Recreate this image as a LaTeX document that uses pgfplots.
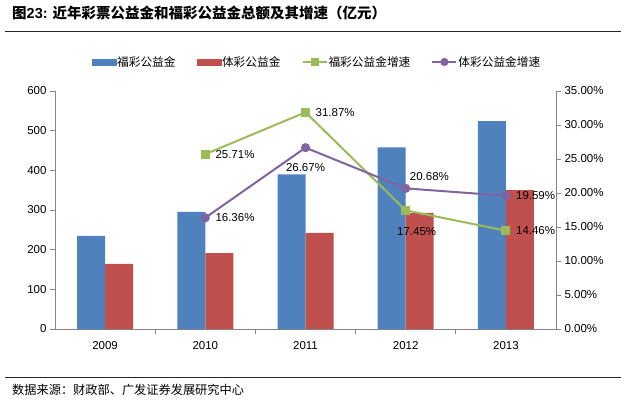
\documentclass[border=0pt]{standalone}
\usepackage{pgfplots}
\pgfplotsset{compat=1.18}
\usepackage{fontspec}
\setmainfont{Liberation Sans}
\newfontfamily\cjk{Noto Sans CJK SC}
\definecolor{cblue}{HTML}{4F81BD}
\definecolor{cred}{HTML}{C0504D}
\definecolor{cgreen}{HTML}{9BBB59}
\definecolor{cpurple}{HTML}{8064A2}
\definecolor{cax}{HTML}{868686}
\pgfplotstableread{
x fc tc
0 235.0 164.5
1 295.4 191.4
2 389.6 242.5
3 457.6 292.6
4 523.8 349.9
}\bars
\pgfplotstableread{
x fcg tcg
1 25.71 16.36
2 31.87 26.67
3 17.45 20.68
4 14.46 19.59
}\rates
\begin{document}
\begin{tikzpicture}[x=1pt,y=1pt]
\useasboundingbox (0,0) rectangle (626,405);
\fill[white] (0,0) rectangle (626,405);
\node[anchor=base west, inner sep=0] at (12,386) {\fontsize{14.5}{16}\selectfont{\cjk\bfseries 图}\textbf{23:}\hspace{5pt}{\cjk\bfseries 近年彩票公益金和福彩公益金总额及其增速（亿元）}};
\draw[line width=1pt, black!85] (5,373) -- (621,373);
\draw[line width=0.8pt, black!85] (5,28) -- (621,28);
\node[anchor=base west, inner sep=0] at (12,11) {\fontsize{12.2}{14}\selectfont\cjk 数据来源：财政部、广发证券发展研究中心};
\begin{axis}[
  at={(55pt,76pt)}, anchor=south west, scale only axis,
  width=501pt, height=238pt,
  xmin=-0.5, xmax=4.5, ymin=0, ymax=600,
  axis x line*=bottom, axis y line*=left,
  axis line style={cax, line width=0.8pt},
  xtick={0,1,2,3,4}, xticklabels={2009,2010,2011,2012,2013},
  minor xtick={0.5,1.5,2.5,3.5},
  major x tick style={draw=none},
  minor x tick style={draw=cax, line width=0.8pt},
  minor tick length=5pt,
  ytick={0,100,...,600},
  major y tick style={draw=cax, line width=0.8pt},
  major tick length=5pt, tick align=outside,
  tick label style={font=\fontsize{11.5}{13}\selectfont, black},
  /pgf/number format/assume math mode=true,
  xticklabel style={yshift=-4pt},
  ybar=0pt, bar width=28pt,
  enlargelimits=false,
]
\addplot[fill=cblue, draw=none] table[x=x,y=fc] {\bars};
\addplot[fill=cred, draw=none] table[x=x,y=tc] {\bars};
\end{axis}
\begin{axis}[
  at={(55pt,76pt)}, anchor=south west, scale only axis,
  width=501pt, height=238pt,
  xmin=-0.5, xmax=4.5, ymin=0, ymax=35,
  axis x line=none, axis y line*=right,
  axis line style={cax, line width=0.8pt},
  ytick={0,5,...,35},
  yticklabel={\pgfmathprintnumber[fixed,fixed zerofill,precision=2]{\tick}\%},
  major y tick style={draw=cax, line width=0.8pt},
  major tick length=5pt, tick align=outside,
  tick label style={font=\fontsize{11.5}{13}\selectfont, black},
  /pgf/number format/assume math mode=true,
  enlargelimits=false,
  clip=false,
  legend columns=4,
  legend style={draw=none, fill=none, at={(0.522,1.122)}, anchor=center,
    font=\fontsize{11.7}{13}\selectfont\cjk,
    /tikz/every even column/.append style={column sep=20pt},
    inner sep=0pt, nodes={inner sep=1pt}},
]
\addlegendimage{legend image code/.code={\fill[cblue] (0pt,-2.8pt) rectangle (24pt,2.8pt);}}
\addlegendentry{福彩公益金}
\addlegendimage{legend image code/.code={\fill[cred] (0pt,-2.8pt) rectangle (24pt,2.8pt);}}
\addlegendentry{体彩公益金}
\addplot[cgreen, line width=2pt, mark=square*, mark size=3.5pt, mark options={solid, fill=cgreen, draw=cgreen},
  legend image code/.code={\draw[cgreen, line width=2pt] (0pt,0pt) -- (24pt,0pt); \fill[cgreen] (9pt,-3pt) rectangle (15pt,3pt);}]
  table[x=x,y=fcg] {\rates};
\addlegendentry{福彩公益金增速}
\addplot[cpurple, line width=2pt, mark=*, mark size=3.5pt, mark options={solid, fill=cpurple, draw=cpurple},
  legend image code/.code={\draw[cpurple, line width=2pt] (0pt,0pt) -- (24pt,0pt); \fill[cpurple] (12pt,0pt) circle (3pt);}]
  table[x=x,y=tcg] {\rates};
\addlegendentry{体彩公益金增速}
\begin{scope}[every node/.style={font=\fontsize{11.5}{13}\selectfont, inner sep=0pt}]
\node[anchor=west] at ([xshift=10pt]axis cs:1,25.71) {25.71\%};
\node[anchor=west] at ([xshift=10pt]axis cs:1,16.36) {16.36\%};
\node[anchor=west] at ([xshift=10pt]axis cs:2,31.87) {31.87\%};
\node[anchor=north] at ([yshift=-16pt]axis cs:2,26.67) {26.67\%};
\node[anchor=south west] at ([xshift=4pt,yshift=8pt]axis cs:3,20.68) {20.68\%};
\node[anchor=north] at ([xshift=11pt,yshift=-17pt]axis cs:3,17.45) {17.45\%};
\node[anchor=west] at ([xshift=10pt]axis cs:4,19.59) {19.59\%};
\node[anchor=west] at ([xshift=10pt]axis cs:4,14.46) {14.46\%};
\end{scope}
\end{axis}
\end{tikzpicture}
\end{document}
